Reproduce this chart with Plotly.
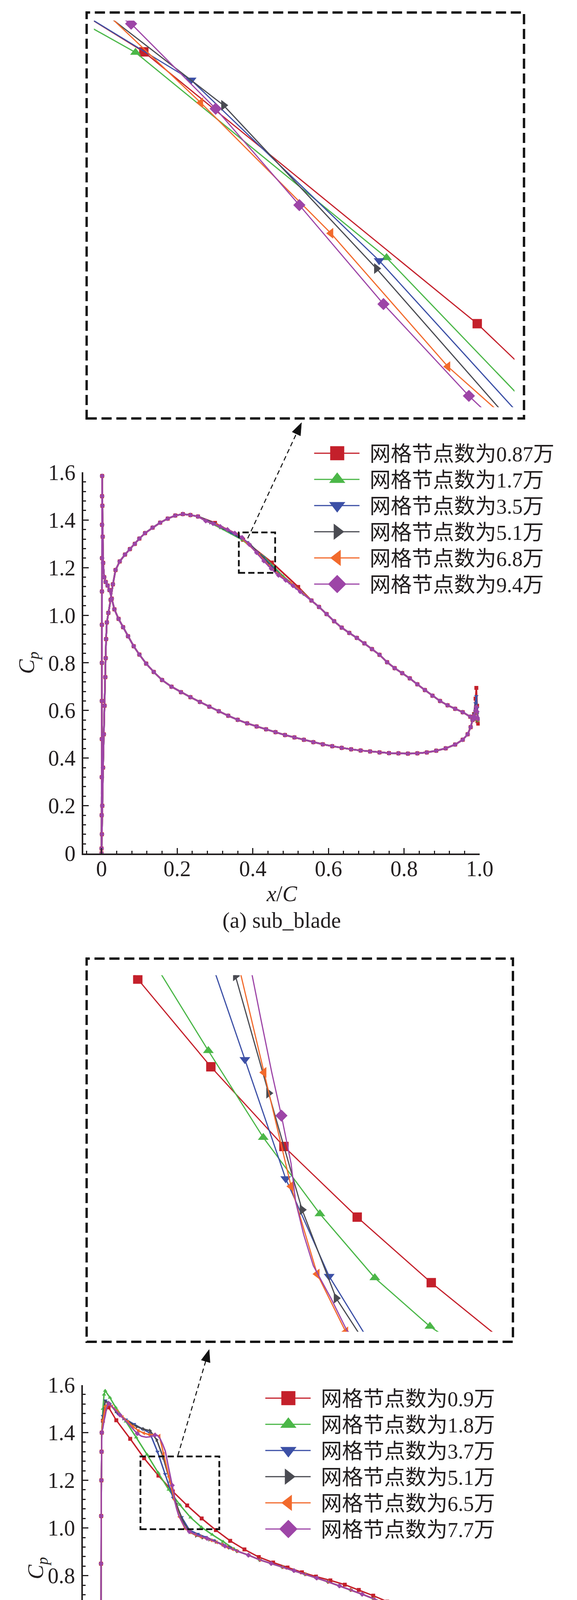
import math
import plotly.graph_objects as go

FIG_W, FIG_H = 1476, 4756
TXT = "#231f20"
SERIF = "Liberation Serif, Noto Sans CJK SC, serif"

# ---------------- legend names / styles ----------------
NAMES_A = ["网格节点数为0.87万", "网格节点数为1.7万", "网格节点数为3.5万",
           "网格节点数为5.1万", "网格节点数为6.8万", "网格节点数为9.4万"]
NAMES_B = ["网格节点数为0.9万", "网格节点数为1.8万", "网格节点数为3.7万",
           "网格节点数为5.1万", "网格节点数为6.5万", "网格节点数为7.7万"]
COLORS = ["#c4202b", "#4bb748", "#3c50a6", "#4a4b52", "#f26a2c", "#9d45a7"]
SYMBOLS = ["square", "triangle-up", "triangle-down", "triangle-right", "triangle-left", "diamond"]

X_TICKS = [0, 0.2, 0.4, 0.6, 0.8, 1.0]
X_TICK_TEXT = ["0", "0.2", "0.4", "0.6", "0.8", "1.0"]
Y_TICKS = [0, 0.2, 0.4, 0.6, 0.8, 1.0, 1.2, 1.4, 1.6]
Y_TICK_TEXT = ["0", "0.2", "0.4", "0.6", "0.8", "1.0", "1.2", "1.4", "1.6"]

# ---------------- (a) sub_blade data ----------------
A_LE_X = [0.0, 0.0004, 0.0006, 0.0008, 0.0009, 0.0010, 0.0010, 0.0011, 0.0012, 0.0013,
          0.0014, 0.0016, 0.0022, 0.0030, 0.0042, 0.0070, 0.0110, 0.0160, 0.0210, 0.0270]
A_LE_CP = [0.02, 0.16, 0.32, 0.48, 0.64, 0.80, 0.96, 1.10, 1.24, 1.38,
           1.50, 1.585, 1.46, 1.33, 1.22, 1.16, 1.14, 1.125, 1.106, 1.07]

A_LOW_X = [0.034, 0.045, 0.057, 0.070, 0.085, 0.100, 0.118, 0.138, 0.160, 0.185,
           0.210, 0.235, 0.260, 0.285, 0.310, 0.335, 0.360, 0.385, 0.410, 0.435,
           0.460, 0.485, 0.510, 0.535, 0.560, 0.585, 0.610, 0.635, 0.660, 0.685,
           0.710, 0.735, 0.760, 0.785, 0.810, 0.835, 0.860, 0.885, 0.910, 0.935,
           0.955, 0.968, 0.976, 0.981]
A_LOW_CP = [1.025, 0.985, 0.950, 0.912, 0.870, 0.835, 0.797, 0.762, 0.728, 0.700,
            0.677, 0.656, 0.636, 0.616, 0.597, 0.578, 0.561, 0.546, 0.533, 0.521,
            0.509, 0.497, 0.487, 0.477, 0.467, 0.458, 0.450, 0.443, 0.437, 0.432,
            0.428, 0.424, 0.421, 0.420, 0.419, 0.420, 0.424, 0.431, 0.441, 0.457,
            0.477, 0.500, 0.530, 0.560]

A_TE_X = [0.985, 0.989, 0.991, 0.993, 0.996, 0.994, 0.989]
A_TE_CP = [
    [0.585, 0.650, 0.695, 0.620, 0.545, 0.555, 0.565],
    [0.580, 0.600, 0.615, 0.590, 0.555, 0.560, 0.565],
    [0.585, 0.630, 0.660, 0.610, 0.560, 0.565, 0.567],
    [0.580, 0.600, 0.620, 0.590, 0.560, 0.563, 0.566],
    [0.580, 0.600, 0.615, 0.590, 0.560, 0.563, 0.566],
    [0.578, 0.600, 0.615, 0.595, 0.565, 0.570, 0.568],
]

A_AFT_X = [0.975, 0.955, 0.935, 0.915, 0.895, 0.875, 0.855, 0.835, 0.815, 0.795, 0.775,
           0.755, 0.735, 0.715, 0.695, 0.675, 0.655, 0.635, 0.615, 0.595, 0.575, 0.555]
A_AFT_CP = [0.574, 0.593, 0.607, 0.622, 0.640, 0.662, 0.686, 0.710, 0.735, 0.757, 0.778,
            0.803, 0.834, 0.858, 0.882, 0.905, 0.926, 0.948, 0.975, 1.005, 1.035, 1.062]

A_MID_X = [
    [0.52, 0.4505, 0.3744, 0.30],
    [0.537, 0.48, 0.4298, 0.3725, 0.3155],
    [0.514, 0.471, 0.4281, 0.3852, 0.3422, 0.299],
    [0.532, 0.4975, 0.4625, 0.4275, 0.3926, 0.3576, 0.3226, 0.2876],
    [0.528, 0.500, 0.4718, 0.4438, 0.4171, 0.3874, 0.3594, 0.3314, 0.3034, 0.2754],
    [0.5254, 0.5062, 0.487, 0.4678, 0.4486, 0.4291, 0.4099, 0.3908, 0.3715, 0.3523,
     0.3331, 0.3139, 0.2947, 0.2755],
]
A_MID_CP = [
    [1.119, 1.2214, 1.317, 1.388],
    [1.086, 1.164, 1.2446, 1.3168, 1.366],
    [1.115, 1.171, 1.2436, 1.3071, 1.3475, 1.386],
    [1.095, 1.138, 1.1794, 1.2408, 1.2982, 1.3399, 1.366, 1.390],
    [1.100, 1.135, 1.168, 1.2063, 1.2532, 1.2991, 1.340, 1.362, 1.381, 1.397],
    [1.099, 1.124, 1.147, 1.168, 1.196, 1.2283, 1.2631, 1.297, 1.3269, 1.345,
     1.360, 1.373, 1.385, 1.396],
]

A_FWD_X = [0.255, 0.235, 0.215, 0.195, 0.175, 0.155, 0.135, 0.115, 0.100, 0.088,
           0.075, 0.062, 0.048, 0.037, 0.030, 0.024, 0.018, 0.014, 0.012, 0.011,
           0.010, 0.008, 0.006, 0.004, 0.002, 0.001, 0.0]
A_FWD_CP = [1.415, 1.421, 1.425, 1.419, 1.406, 1.389, 1.368, 1.345, 1.322, 1.300,
            1.278, 1.255, 1.226, 1.190, 1.130, 1.065, 1.010, 0.970, 0.900, 0.820,
            0.740, 0.620, 0.500, 0.360, 0.200, 0.080, 0.0]

# ---------------- (b) tran_blade data ----------------
B_VERT_X = [0.0, 0.0, 0.0005, 0.001, 0.001, 0.0015, 0.002, 0.0025, 0.003]
B_VERT_CP = [0.0, 0.18, 0.40, 0.62, 0.85, 1.05, 1.20, 1.32, 1.40]

B_UP_X = [
    [0.006, 0.012, 0.021, 0.0413, 0.078, 0.1147, 0.1525, 0.1903, 0.2282, 0.2665, 0.304],
    [0.006, 0.009, 0.012, 0.0245, 0.0396, 0.0665, 0.0938, 0.1225, 0.1512, 0.1796,
     0.2089, 0.2373, 0.2658, 0.2945, 0.323, 0.352],
    [0.006, 0.0125, 0.024, 0.045, 0.0665, 0.0883, 0.1085, 0.130, 0.150, 0.1701,
     0.1912, 0.2137, 0.2344, 0.256, 0.277, 0.298, 0.320, 0.341],
    [0.006, 0.012, 0.022, 0.040, 0.060, 0.078, 0.0956, 0.113, 0.1304, 0.1478,
     0.1652, 0.1824, 0.1997, 0.2173, 0.235, 0.252, 0.2695, 0.287, 0.304, 0.322, 0.339],
    [0.006, 0.012, 0.020, 0.030, 0.044, 0.058, 0.072, 0.086, 0.100, 0.114,
     0.128, 0.142, 0.155, 0.166, 0.180, 0.194, 0.2075, 0.2223, 0.236, 0.250,
     0.264, 0.278, 0.292, 0.306, 0.320, 0.334, 0.348],
    [0.006, 0.009, 0.012, 0.016, 0.021, 0.030, 0.040, 0.051, 0.062, 0.074,
     0.086, 0.0967, 0.108, 0.120, 0.132, 0.1437, 0.150, 0.157, 0.1635, 0.1705,
     0.1783, 0.184, 0.189, 0.194, 0.1964, 0.2005, 0.2055, 0.2146, 0.2229, 0.234,
     0.2545, 0.281, 0.305, 0.328],
]
B_UP_CP = [
    [1.45, 1.50, 1.506, 1.452, 1.374, 1.2927, 1.2197, 1.1533, 1.0945, 1.0399, 0.991],
    [1.50, 1.56, 1.576, 1.547, 1.506, 1.447, 1.38, 1.308, 1.2331, 1.1608,
     1.0972, 1.0439, 1.0035, 0.972, 0.943, 0.912],
    [1.47, 1.535, 1.52, 1.48, 1.455, 1.436, 1.417, 1.398, 1.320, 1.2258,
     1.1266, 1.0452, 0.991, 0.975, 0.962, 0.948, 0.932, 0.918],
    [1.46, 1.53, 1.525, 1.49, 1.46, 1.44, 1.425, 1.415, 1.408, 1.37,
     1.2954, 1.1977, 1.1006, 1.027, 0.983, 0.968, 0.960, 0.952, 0.942, 0.930, 0.918],
    [1.45, 1.51, 1.52, 1.51, 1.49, 1.465, 1.445, 1.425, 1.408, 1.398,
     1.392, 1.392, 1.386, 1.31, 1.215, 1.1201, 1.0471, 0.9989, 0.982, 0.972,
     0.963, 0.956, 0.948, 0.940, 0.930, 0.920, 0.911],
    [1.42, 1.45, 1.47, 1.505, 1.522, 1.51, 1.492, 1.474, 1.456, 1.436,
     1.414, 1.396, 1.385, 1.381, 1.383, 1.390, 1.388, 1.374, 1.352, 1.323,
     1.260, 1.215, 1.179, 1.139, 1.107, 1.080, 1.054, 1.027, 1.000, 0.985,
     0.970, 0.956, 0.941, 0.924],
]

B_AFT_X = [0.36, 0.39, 0.42, 0.45, 0.48, 0.51, 0.54, 0.57, 0.60, 0.63, 0.66,
           0.69, 0.72, 0.75, 0.78, 0.81, 0.84, 0.87, 0.90, 0.92, 0.94]
B_AFT_CP = [0.903, 0.886, 0.866, 0.851, 0.836, 0.821, 0.806, 0.790, 0.774, 0.757, 0.740,
            0.722, 0.703, 0.683, 0.660, 0.634, 0.604, 0.574, 0.546, 0.528, 0.510]
B_RED_AFT_X = [0.3417, 0.3793, 0.4172, 0.455, 0.493, 0.531, 0.568, 0.606, 0.644,
               0.681, 0.719, 0.756, 0.795, 0.832, 0.870, 0.907, 0.944]
B_RED_AFT_CP = [0.946, 0.910, 0.878, 0.855, 0.834, 0.814, 0.796, 0.780, 0.762,
                0.740, 0.716, 0.691, 0.662, 0.628, 0.593, 0.560, 0.525]

B_TE_X = [
    [0.962, 0.9795, 0.987, 0.993, 0.990],
    [0.955, 0.970, 0.982, 0.9895, 0.9925, 0.992, 0.989, 0.983, 0.977, 0.970, 0.963, 0.955, 0.948],
    [0.955, 0.970, 0.982, 0.989, 0.991, 0.989, 0.983, 0.976, 0.968, 0.960],
    [0.955, 0.970, 0.982, 0.989, 0.991, 0.989, 0.983, 0.976, 0.968, 0.960],
    [0.955, 0.970, 0.982, 0.989, 0.991, 0.989, 0.983, 0.976, 0.968, 0.960],
    [0.955, 0.970, 0.982, 0.989, 0.991, 0.989, 0.983, 0.976, 0.968, 0.960],
]
B_TE_CP = [
    [0.540, 0.560, 0.540, 0.498, 0.485],
    [0.497, 0.483, 0.472, 0.468, 0.500, 0.560, 0.625, 0.673, 0.660, 0.625, 0.595, 0.560, 0.535],
    [0.496, 0.483, 0.473, 0.468, 0.490, 0.508, 0.518, 0.522, 0.510, 0.492],
    [0.496, 0.483, 0.474, 0.470, 0.495, 0.515, 0.528, 0.532, 0.515, 0.495],
    [0.496, 0.483, 0.474, 0.471, 0.500, 0.522, 0.536, 0.540, 0.520, 0.498],
    [0.496, 0.483, 0.474, 0.472, 0.500, 0.525, 0.541, 0.546, 0.525, 0.500],
]

B_LOWA_X = [0.945, 0.925, 0.900, 0.875, 0.850, 0.825, 0.800, 0.775, 0.750, 0.725]
B_LOWA_CP = [0.478, 0.472, 0.467, 0.464, 0.462, 0.461, 0.461, 0.462, 0.463, 0.464]
B_GREEN_LOWA_X = [0.943, 0.930, 0.916, 0.900, 0.887, 0.860, 0.832, 0.805, 0.775, 0.745, 0.715]
B_GREEN_LOWA_CP = [0.522, 0.512, 0.506, 0.502, 0.498, 0.494, 0.490, 0.487, 0.482, 0.476, 0.470]
B_LOWB_X = [0.700, 0.675, 0.650, 0.625, 0.600, 0.575, 0.550, 0.525, 0.500, 0.475,
            0.450, 0.425, 0.400, 0.375, 0.350, 0.325, 0.300, 0.275, 0.250, 0.225,
            0.200, 0.175, 0.150, 0.125, 0.105, 0.090, 0.075, 0.060, 0.045, 0.033,
            0.023, 0.015, 0.008, 0.003]
B_LOWB_CP = [0.466, 0.469, 0.472, 0.478, 0.484, 0.491, 0.498, 0.505, 0.513, 0.520,
             0.527, 0.534, 0.541, 0.548, 0.556, 0.566, 0.579, 0.592, 0.605, 0.612,
             0.617, 0.616, 0.613, 0.607, 0.605, 0.610, 0.620, 0.634, 0.650, 0.660,
             0.666, 0.663, 0.656, 0.651]
B_RED_LOW_X = [0.980, 0.944, 0.907, 0.870, 0.832, 0.795, 0.757, 0.720, 0.682, 0.644,
               0.606, 0.569, 0.531, 0.493, 0.456, 0.418, 0.380, 0.342, 0.304, 0.267,
               0.229, 0.191, 0.153, 0.116, 0.078, 0.041, 0.020, 0.005]
B_RED_LOW_CP = [0.490, 0.487, 0.482, 0.476, 0.473, 0.471, 0.471, 0.472, 0.475, 0.480,
                0.490, 0.499, 0.510, 0.522, 0.533, 0.542, 0.553, 0.567, 0.583, 0.602,
                0.614, 0.620, 0.618, 0.614, 0.627, 0.655, 0.660, 0.650]
B_TAIL_X = [0.0015, 0.0005]
B_TAIL_CP = [0.40, 0.10]

# symbols of the 7.7万 curve are drawn only at every few nodes
B_MAG_MX = [0.0, 0.0005, 0.001, 0.001, 0.0015, 0.002, 0.0025, 0.003,
            0.021, 0.051, 0.0967, 0.1437, 0.189, 0.234, 0.281, 0.328, 0.39, 0.45,
            0.51, 0.57, 0.63, 0.69, 0.75, 0.81, 0.87, 0.92,
            0.976, 0.989,
            0.925, 0.875, 0.825, 0.775, 0.725, 0.675, 0.625, 0.575, 0.525, 0.475,
            0.425, 0.375, 0.325, 0.275, 0.225, 0.175, 0.125, 0.075, 0.033]
B_MAG_MCP = [0.18, 0.40, 0.62, 0.85, 1.05, 1.20, 1.32, 1.40,
             1.522, 1.474, 1.396, 1.390, 1.179, 0.985, 0.956, 0.924, 0.886, 0.851,
             0.821, 0.790, 0.757, 0.722, 0.683, 0.634, 0.574, 0.528,
             0.546, 0.472,
             0.472, 0.464, 0.461, 0.462, 0.464, 0.469, 0.478, 0.491, 0.505, 0.520,
             0.534, 0.548, 0.566, 0.592, 0.612, 0.616, 0.607, 0.620, 0.660]

# ---------------- assemble series paths ----------------
series_a = []
for i in range(6):
    xs = A_LE_X + A_LOW_X + A_TE_X + A_AFT_X + A_MID_X[i] + A_FWD_X
    ys = A_LE_CP + A_LOW_CP + A_TE_CP[i] + A_AFT_CP + A_MID_CP[i] + A_FWD_CP
    series_a.append((xs, ys, xs, ys))

series_b = []
for i in range(6):
    if i == 0:
        aft_x, aft_y = B_RED_AFT_X, B_RED_AFT_CP
        low_x, low_y = B_RED_LOW_X, B_RED_LOW_CP
    else:
        aft_x, aft_y = B_AFT_X, B_AFT_CP
        if i == 1:
            low_x, low_y = B_GREEN_LOWA_X + B_LOWB_X, B_GREEN_LOWA_CP + B_LOWB_CP
        else:
            low_x, low_y = B_LOWA_X + B_LOWB_X, B_LOWA_CP + B_LOWB_CP
    xs = B_VERT_X + B_UP_X[i] + aft_x + B_TE_X[i] + low_x + B_TAIL_X
    ys = B_VERT_CP + B_UP_CP[i] + aft_y + B_TE_CP[i] + low_y + B_TAIL_CP
    if i == 5:
        series_b.append((xs, ys, B_MAG_MX, B_MAG_MCP))
    else:
        series_b.append((xs, ys, xs, ys))

# ---------------- figure ----------------
def pxx(x):
    return x / FIG_W


def pxy(y):
    return 1 - y / FIG_H


fig = go.Figure()


def add_curves(series, xa, ya, lw, ms):
    for i, (xs, ys, mx, my) in enumerate(series):
        fig.add_trace(go.Scatter(x=xs, y=ys, mode="lines", xaxis=xa, yaxis=ya,
                                 line=dict(color=COLORS[i], width=lw),
                                 showlegend=False, hoverinfo="skip"))
        fig.add_trace(go.Scatter(x=mx, y=my, mode="markers", xaxis=xa, yaxis=ya,
                                 marker=dict(symbol=SYMBOLS[i], size=ms, color=COLORS[i],
                                             line=dict(width=0)),
                                 showlegend=False, hoverinfo="skip"))


add_curves(series_a, "x", "y", 4.2, 10)
add_curves(series_a, "x2", "y2", 3, 24)
add_curves(series_b, "x3", "y3", 3.6, 10)
add_curves(series_b, "x4", "y4", 3, 24)

for i in range(6):
    fig.add_trace(go.Scatter(x=[None], y=[None], mode="lines+markers", name=NAMES_A[i],
                             xaxis="x", yaxis="y", legend="legend",
                             line=dict(color=COLORS[i], width=3),
                             marker=dict(symbol=SYMBOLS[i], size=16, color=COLORS[i])))
for i in range(6):
    fig.add_trace(go.Scatter(x=[None], y=[None], mode="lines+markers", name=NAMES_B[i],
                             xaxis="x3", yaxis="y3", legend="legend2",
                             line=dict(color=COLORS[i], width=3),
                             marker=dict(symbol=SYMBOLS[i], size=16, color=COLORS[i])))


def main_x(domain, rng, anchor):
    return dict(domain=domain, range=rng, anchor=anchor, showline=True, linewidth=3.5,
                linecolor=TXT, ticks="inside", ticklen=14, tickwidth=3, tickcolor=TXT,
                tickvals=X_TICKS, ticktext=X_TICK_TEXT,
                tickfont=dict(family=SERIF, size=56, color=TXT),
                ticklabelstandoff=-12,
                minor=dict(ticks="inside", ticklen=7, tickwidth=3, tickcolor=TXT,
                           tickmode="linear", tick0=0, dtick=0.04, showgrid=False),
                showgrid=False, zeroline=False, fixedrange=True)


def main_y(domain, anchor):
    return dict(domain=domain, range=[0, 1.6], anchor=anchor, showline=True, linewidth=3.5,
                linecolor=TXT, ticks="inside", ticklen=14, tickwidth=3, tickcolor=TXT,
                tickvals=Y_TICKS, ticktext=Y_TICK_TEXT,
                tickfont=dict(family=SERIF, size=56, color=TXT),
                ticklabelstandoff=5,
                minor=dict(ticks="inside", ticklen=7, tickwidth=3, tickcolor=TXT,
                           tickmode="linear", tick0=0, dtick=0.04, showgrid=False),
                showgrid=False, zeroline=False, fixedrange=True)


def inset_axis(domain, rng, anchor):
    return dict(domain=domain, range=rng, anchor=anchor, visible=False,
                showgrid=False, zeroline=False, fixedrange=True)


legend_common = dict(xanchor="left", yanchor="top", bgcolor="rgba(0,0,0,0)",
                     borderwidth=0, itemwidth=137, tracegroupgap=0,
                     font=dict(family=SERIF, size=54, color=TXT),
                     itemclick=False, itemdoubleclick=False)

fig.update_layout(
    width=FIG_W, height=FIG_H, autosize=False,
    margin=dict(l=0, r=0, t=0, b=0),
    paper_bgcolor="white", plot_bgcolor="rgba(0,0,0,0)",
    showlegend=True, hovermode=False,
    xaxis=main_x([pxx(218.5), pxx(1257)], [-0.048, 1.0], "y"),
    yaxis=main_y([pxy(2183), pxy(1195)], "x"),
    xaxis2=inset_axis([pxx(246), pxx(1348)], [0.363, 0.459], "y2"),
    yaxis2=inset_axis([pxy(1026), pxy(23)], [1.192, 1.328], "x2"),
    xaxis3=main_x([pxx(217), pxx(1257)], [-0.047, 1.0], "y3"),
    yaxis3=main_y([pxy(4551), pxy(3562)], "x3"),
    xaxis4=inset_axis([pxx(246), pxx(1325)], [0.092, 0.305], "y4"),
    yaxis4=inset_axis([pxy(3424), pxy(2499)], [0.999, 1.296], "x4"),
    legend=dict(x=pxx(818), y=pxy(1103), **legend_common),
    legend2=dict(x=pxx(690), y=pxy(3554), **legend_common),
)

shapes = []
# inset frames
for (l, r, t, b) in [(227, 1373, 2, 1055), (227, 1344, 2456, 3450)]:
    shapes.append(dict(type="rect", xref="paper", yref="paper",
                       x0=pxx(l), x1=pxx(r), y0=pxy(b), y1=pxy(t),
                       line=dict(color="#111111", width=6, dash="26px,12px"),
                       fillcolor="rgba(0,0,0,0)", layer="above"))
# zoom windows in the main plots
shapes.append(dict(type="rect", xref="x", yref="y", x0=0.363, x1=0.459, y0=1.178, y1=1.348,
                   line=dict(color="#111111", width=4.5, dash="16px,8px")))
shapes.append(dict(type="rect", xref="x3", yref="y3", x0=0.105, x1=0.313, y0=0.995, y1=1.30,
                   line=dict(color="#111111", width=4.5, dash="16px,8px")))


def arrow(tail, tip, head_len=32, head_w=24):
    (x0, y0), (x1, y1) = tail, tip
    dx, dy = x1 - x0, y1 - y0
    L = math.hypot(dx, dy)
    ux, uy = dx / L, dy / L
    bx, by = x1 - ux * head_len, y1 - uy * head_len
    nx, ny = -uy, ux
    p1 = (bx + nx * head_w / 2, by + ny * head_w / 2)
    p2 = (bx - nx * head_w / 2, by - ny * head_w / 2)
    out = [dict(type="line", xref="paper", yref="paper",
                x0=pxx(x0), y0=pxy(y0), x1=pxx(bx + ux * 4), y1=pxy(by + uy * 4),
                line=dict(color="#111111", width=2.6, dash="12px,8px"))]
    path = "M {} {} L {} {} L {} {} Z".format(pxx(x1), pxy(y1), pxx(p1[0]), pxy(p1[1]),
                                              pxx(p2[0]), pxy(p2[1]))
    out.append(dict(type="path", xref="paper", yref="paper", path=path,
                    fillcolor="#111111", line=dict(color="#111111", width=1)))
    return out


shapes += arrow((649, 1366), (790, 1066))
shapes += arrow((466, 3745), (548, 3470))
fig.update_layout(shapes=shapes)

ann = []
def label(x, y, text, angle=0, size=56):
    ann.append(dict(xref="paper", yref="paper", x=pxx(x), y=pxy(y), text=text,
                    showarrow=False, textangle=angle, xanchor="center", yanchor="middle",
                    font=dict(family=SERIF, size=size, color=TXT)))

label(75, 1689, "<i>C</i><sub><i>p</i></sub>", angle=-90)
label(738, 2288, "<i>x</i>/<i>C</i>")
label(738, 2357, "(a) sub_blade")
label(98, 4037, "<i>C</i><sub><i>p</i></sub>", angle=-90)
label(736, 4658, "<i>x</i>/<i>C</i>")
label(736, 4724, "(b) tran_blade")
fig.update_layout(annotations=ann)

POST = """
(function(){
  document.documentElement.style.margin = '0';
  document.documentElement.style.padding = '0';
  document.body.style.margin = '0';
  document.body.style.padding = '0';
  document.body.style.overflow = 'hidden';
  var gd = document.getElementById('{plot_id}');
  var ROW = 67;
  function fix(){
    gd.querySelectorAll('g.infolayer g.traces').forEach(function(tr){
      tr.querySelectorAll('g.legendlines path').forEach(function(p){
        p.setAttribute('d', 'M5,0h116');
      });
      tr.querySelectorAll('path.scatterpts').forEach(function(p){
        p.setAttribute('transform', 'translate(64,0) scale(2.25)');
      });
    });
    gd.querySelectorAll('g.infolayer g.scrollbox').forEach(function(sb){
      var trs = sb.querySelectorAll('g.traces');
      var base = null;
      trs.forEach(function(tr, k){
        var t = tr.getAttribute('transform') || '';
        var m = /translate\\(\\s*([-\\d.eE]+)[\\s,]+([-\\d.eE]+)\\s*\\)/.exec(t);
        if (!m) { return; }
        var x = parseFloat(m[1]), y = parseFloat(m[2]);
        if (k === 0) { base = y; return; }
        if (base !== null) {
          tr.setAttribute('transform', 'translate(' + x + ',' + (base + ROW * k) + ')');
        }
      });
    });
  }
  fix();
  if (gd && gd.on) { gd.on('plotly_afterplot', fix); }
  setTimeout(fix, 200);
  setTimeout(fix, 1000);
})();
"""

fig.write_html("out.html", post_script=POST, config={"displayModeBar": False})
